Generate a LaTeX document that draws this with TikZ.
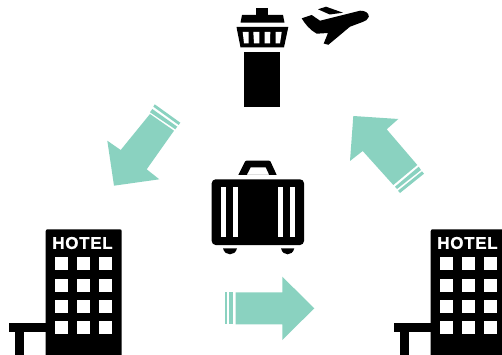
\documentclass[tikz,border=0pt]{standalone}
\usepackage{fontspec}
\setmainfont{Liberation Sans}
\definecolor{teal1}{HTML}{8AD2C0}
\tikzset{
  ink/.style={fill=black,draw=none},
  hole/.style={fill=white,draw=none},
  mint/.style={fill=teal1,draw=none},
  hotelword/.style={text=white,font=\bfseries\fontsize{17}{17}\selectfont\addfontfeature{LetterSpace=4,FakeBold=1},inner sep=0pt,anchor=center},
  pics/hotelicon/.style={code={
    \fill[ink] (45.7,355) -- (45.7,231.3) .. controls (45.7,230) and (46.5,229.3) .. (47.7,229.3) -- (119.7,229.3) .. controls (121,229.3) and (121.7,230) .. (121.7,231.3) -- (121.7,355) -- cycle;
    \fill[ink] (9,323.3) rectangle (45.7,332.3);
    \fill[ink] (15,332) rectangle (24,355);
    \foreach \wx in {55,77.3,99.3}{
      \foreach \wy in {257.3,278.5,299.7,320.7}{
        \fill[hole] (\wx,\wy) rectangle ++(12.8,13);
      }
    }
  }}
}
\begin{document}
\begin{tikzpicture}[x=1pt,y=-1pt]
\useasboundingbox (0,0) rectangle (502,355);
\begin{scope}
\clip (0,0) rectangle (502,355);
% hotels
\pic at (0,0) {hotelicon};
\node[hotelword] (hotelA) at (82.5,243) {HOTEL};
\pic at (385,0) {hotelicon};
\node[hotelword] (hotelB) at (467.5,243) {HOTEL};
% tower
\fill[ink] (256.3,8) rectangle (268,15.5);
\fill[ink] (242,15) -- (283,15) -- (284.5,22.7) -- (240.5,22.7) -- cycle;
\fill[ink] (236.5,27) -- (288.3,27) -- (284,47.3) -- (240.5,47.3) -- cycle;
\fill[hole] (242.7,32) -- (248.5,32) -- (248.5,43.3) -- (244,43.3) -- cycle;
\fill[hole] (253.3,32) -- (259.3,32) -- (259.3,43.3) -- (254,43.3) -- cycle;
\fill[hole] (264.7,32) -- (270.3,32) -- (270,43.3) -- (264.7,43.3) -- cycle;
\fill[hole] (275.5,32) -- (281.7,32) -- (280,43.3) -- (275.5,43.3) -- cycle;
\fill[ink] (244.3,51.7) rectangle (280,106.7);
% plane
\fill[ink] (301.7,18.3) -- (311.7,15) -- (320,20.7) -- (360,10.7) .. controls (365,10.5) and (369,13) .. (368.8,16.7)
 .. controls (368,19.5) and (365.5,21) .. (363.3,21.7) -- (350,26.7) -- (328.3,44.8) -- (323.7,43.5) -- (328,33) -- (316.7,33.7) .. controls (310,30) and (305,24) .. (301.7,18.3) -- cycle;
\fill[ink] (318,9.3) -- (326,6.7) -- (343,12.7) -- (329.7,14.5) -- cycle;
% suitcase
\fill[ink,rounded corners=4pt] (211.7,179.3) rectangle (304,245);
\fill[ink,even odd rule] (238.3,175) -- (245,161.5) -- (246.5,160.7) -- (269,160.7) -- (270.5,161.5) -- (276.7,175) -- cycle
  (246.7,175) -- (250.7,167.3) -- (265.7,167.3) -- (269.3,175) -- cycle;
\foreach \sx in {221,233,278.3,290.3}{
  \fill[hole] (\sx,187.3) rectangle ++(4.7,49.4);
}
\fill[ink] (223,248.3) -- (237,248.3) .. controls (236,252.5) and (233,254.3) .. (230,254.3) .. controls (227,254.3) and (224,252.5) .. (223,248.3) -- cycle;
\fill[ink] (281,248.3) -- (294.3,248.3) .. controls (293.3,252.5) and (290.5,254.3) .. (287.6,254.3) .. controls (284.7,254.3) and (282,252.5) .. (281,248.3) -- cycle;
% left arrow
\fill[mint] (114,185.7) -- (107.3,140.7) -- (120.7,150) -- (150,114) -- (174,130.7) -- (146.7,169.3) -- (159.3,179.3) -- cycle;
\fill[mint] (150,112.3) -- (152.3,109) -- (177.3,126.7) -- (175.3,129.3) -- cycle;
\fill[mint] (153.3,106.7) -- (154.7,104.3) -- (180.3,122.7) -- (178.7,125) -- cycle;
% right-upper arrow
\fill[mint] (353.3,116) -- (398.3,119) -- (386.7,129.3) -- (417.3,165) -- (393.3,185) -- (362.7,151) -- (350,161) -- cycle;
\fill[mint] (418.7,166.7) -- (421,170) -- (397,189) -- (395,186.7) -- cycle;
\fill[mint] (422,171.3) -- (424,173.7) -- (400,193) -- (398,190.7) -- cycle;
% lower arrow
\fill[mint] (314.3,308.3) -- (282.3,276.7) -- (282.3,292.3) -- (235.7,292.3) -- (235.7,324.3) -- (282.3,324.3) -- (282.3,340) -- cycle;
\fill[mint] (229,292.3) rectangle (233.3,324.3);
\fill[mint] (225,292.3) rectangle (227.3,324.3);
\end{scope}
\end{tikzpicture}
\end{document}
